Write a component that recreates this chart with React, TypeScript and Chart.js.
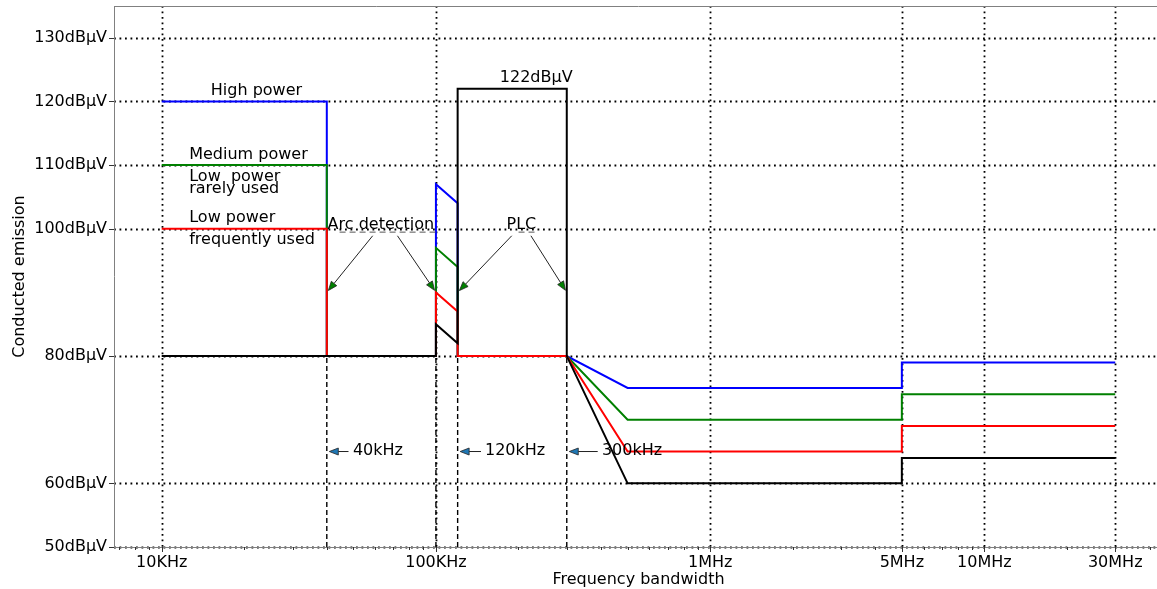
import { useEffect, useRef } from 'react';
import { Chart, registerables } from 'chart.js';

Chart.register(...registerables);

const FONT = '"DejaVu Sans", "Noto Sans", sans-serif';

// ---- data ----
const colorFreq = [10e3, 40e3, 40e3, 100e3, 100e3, 120e3, 120e3, 300e3, 500e3, 5e6, 5e6, 30e6];
const highPower = [120, 120, 80, 80, 107, 104, 80, 80, 75, 75, 79, 79];
const mediumPower = [110, 110, 80, 80, 97, 94, 80, 80, 70, 70, 74, 74];
const lowPower = [100, 100, 80, 80, 90, 87, 80, 80, 65, 65, 69, 69];
const plcFreq = [10e3, 100e3, 100e3, 120e3, 120e3, 300e3, 300e3, 500e3, 5e6, 5e6, 30e6];
const plcLevel = [80, 80, 85, 82, 122, 122, 80, 60, 60, 64, 64];

const markerFreqs = [40e3, 100e3, 120e3, 300e3];
const markerBottom = 50;
const markerTop = 80;

const xTickValues = [10e3, 100e3, 1e6, 5e6, 10e6, 30e6];
const xTickLabels = ['10KHz', '100KHz', '1MHz', '5MHz', '10MHz', '30MHz'];
const yTickValues = [50, 60, 80, 100, 110, 120, 130];
const yUnit = 'dBμV';

const xMin = 6700;
const xMax = 44.8e6;
const yMin = 50;
const yMax = 135;

// annotations (data coordinates)
const textNotes = [
  { text: 'High power', x: 15.1e3, y: 121.7, align: 'left' },
  { text: 'Medium power', x: 12.6e3, y: 111.65, align: 'left' },
  { text: 'Low  power', x: 12.6e3, y: 108.2, align: 'left' },
  { text: 'rarely used', x: 12.6e3, y: 106.3, align: 'left' },
  { text: 'Low power', x: 12.6e3, y: 101.75, align: 'left' },
  { text: 'frequently used', x: 12.6e3, y: 98.3, align: 'left' },
  { text: '122dBμV', x: 171e3, y: 123.75, align: 'left' },
  { text: 'Arc detection', x: 63e3, y: 100.65, align: 'center', underline: true },
  { text: 'PLC', x: 205e3, y: 100.65, align: 'center', underline: true },
  { text: '40kHz', x: 49.8e3, y: 65.1, align: 'left' },
  { text: '120kHz', x: 151e3, y: 65.1, align: 'left' },
  { text: '300kHz', x: 403e3, y: 65.1, align: 'left' },
];

const arrowNotes = [
  { fromX: 58.8e3, fromY: 98.9, toX: 40e3, toY: 90, fill: '#008000' },
  { fromX: 72.4e3, fromY: 98.9, toX: 100e3, toY: 90, fill: '#008000' },
  { fromX: 189e3, fromY: 98.9, toX: 120e3, toY: 90, fill: '#008000' },
  { fromX: 222e3, fromY: 98.9, toX: 300e3, toY: 90, fill: '#008000' },
  { fromX: 48e3, fromY: 65, toX: 40e3, toY: 65, fill: '#1f77b4' },
  { fromX: 146e3, fromY: 65, toX: 120e3, toY: 65, fill: '#1f77b4' },
  { fromX: 389e3, fromY: 65, toX: 300e3, toY: 65, fill: '#1f77b4' },
];

const toPoints = (xs: number[], ys: number[]) => xs.map((x, i) => ({ x, y: ys[i] }));

const markerPoints = () => {
  const pts: any[] = [];
  markerFreqs.forEach((f) => {
    pts.push({ x: f, y: markerBottom });
    pts.push({ x: f, y: markerTop });
    pts.push({ x: f, y: null });
  });
  return pts;
};

function minorTicks(): number[] {
  const out: number[] = [];
  for (let e = 3; e <= 7; e++) {
    for (let m = 1; m <= 9; m++) {
      const v = m * Math.pow(10, e);
      if (v >= xMin && v <= xMax && !xTickValues.includes(v)) out.push(v);
    }
  }
  return out;
}

const decorPlugin = {
  id: 'decor',
  beforeDatasetsDraw(chart: any) {
    const { ctx, chartArea } = chart;
    const xs = chart.scales.x;
    const ys = chart.scales.y;
    const { left, right, top, bottom } = chartArea;
    ctx.save();
    // grid
    ctx.strokeStyle = '#000';
    ctx.lineWidth = 1.8;
    ctx.setLineDash([1.8, 3.7]);
    yTickValues.forEach((v) => {
      const py = Math.round(ys.getPixelForValue(v)) + 0.5;
      ctx.beginPath();
      ctx.moveTo(left, py);
      ctx.lineTo(right, py);
      ctx.stroke();
    });
    xTickValues.forEach((v) => {
      const px = Math.round(xs.getPixelForValue(v)) + 0.5;
      ctx.beginPath();
      ctx.moveTo(px, top);
      ctx.lineTo(px, bottom);
      ctx.stroke();
    });
    ctx.setLineDash([]);
    // spines
    ctx.strokeStyle = '#808080';
    ctx.lineWidth = 1;
    ctx.beginPath();
    ctx.moveTo(left + 0.5, top);
    ctx.lineTo(left + 0.5, bottom);
    ctx.moveTo(left, top + 0.5);
    ctx.lineTo(right, top + 0.5);
    ctx.moveTo(left, bottom + 0.5);
    ctx.lineTo(right, bottom + 0.5);
    ctx.stroke();
    // ticks
    ctx.strokeStyle = '#333';
    ctx.beginPath();
    yTickValues.forEach((v) => {
      const py = Math.round(ys.getPixelForValue(v)) + 0.5;
      ctx.moveTo(left, py);
      ctx.lineTo(left - 5, py);
    });
    xTickValues.forEach((v) => {
      const px = Math.round(xs.getPixelForValue(v)) + 0.5;
      ctx.moveTo(px, bottom);
      ctx.lineTo(px, bottom + 5);
    });
    minorTicks().forEach((v) => {
      const px = Math.round(xs.getPixelForValue(v)) + 0.5;
      ctx.moveTo(px, bottom);
      ctx.lineTo(px, bottom + 3);
    });
    ctx.stroke();
    ctx.restore();
  },
  afterDatasetsDraw(chart: any) {
    const { ctx, chartArea } = chart;
    const xs = chart.scales.x;
    const ys = chart.scales.y;
    ctx.save();
    ctx.font = `16px ${FONT}`;
    ctx.fillStyle = '#000';
    ctx.textBaseline = 'middle';
    textNotes.forEach((n: any) => {
      const px = xs.getPixelForValue(n.x);
      const py = ys.getPixelForValue(n.y);
      ctx.textAlign = n.align;
      ctx.fillText(n.text, px, py);
      if (n.underline) {
        const w = ctx.measureText(n.text).width;
        const x0 = n.align === 'center' ? px - w / 2 : px;
        ctx.save();
        ctx.strokeStyle = '#555';
        ctx.lineWidth = 1;
        ctx.setLineDash([6, 4]);
        ctx.beginPath();
        ctx.moveTo(x0 + 12, py + 7.5);
        ctx.lineTo(x0 + w + 2, py + 7.5);
        ctx.stroke();
        ctx.restore();
      }
    });
    // arrows
    arrowNotes.forEach((a) => {
      const x1 = xs.getPixelForValue(a.fromX);
      const y1 = ys.getPixelForValue(a.fromY);
      let x2 = xs.getPixelForValue(a.toX);
      let y2 = ys.getPixelForValue(a.toY);
      const dx = x2 - x1;
      const dy = y2 - y1;
      const len = Math.hypot(dx, dy);
      const ux = dx / len;
      const uy = dy / len;
      x2 -= ux * 2.5;
      y2 -= uy * 2.5;
      const hl = 9;
      const hw = 3.5;
      const bx = x2 - ux * hl;
      const by = y2 - uy * hl;
      ctx.strokeStyle = '#222';
      ctx.lineWidth = 1;
      ctx.beginPath();
      ctx.moveTo(x1, y1);
      ctx.lineTo(bx, by);
      ctx.stroke();
      ctx.beginPath();
      ctx.moveTo(x2, y2);
      ctx.lineTo(bx - uy * hw, by + ux * hw);
      ctx.lineTo(bx + uy * hw, by - ux * hw);
      ctx.closePath();
      ctx.fillStyle = a.fill;
      ctx.fill();
      ctx.lineWidth = 0.8;
      ctx.stroke();
    });
    // axis titles
    ctx.fillStyle = '#000';
    ctx.textAlign = 'center';
    ctx.textBaseline = 'middle';
    ctx.fillText('Frequency bandwidth', (chartArea.left + chartArea.right) / 2, 580);
    ctx.save();
    ctx.translate(20, (chartArea.top + chartArea.bottom) / 2);
    ctx.rotate(-Math.PI / 2);
    ctx.fillText('Conducted emission', 0, 0);
    ctx.restore();
    ctx.restore();
  },
};

export default function App() {
  const ref = useRef<HTMLCanvasElement | null>(null);
  useEffect(() => {
    if (!ref.current) return;
    const line = (data: any, color: string, order: number, dash: number[] = [], width = 2) => ({
      data,
      borderColor: color,
      backgroundColor: color,
      borderWidth: width,
      borderDash: dash,
      pointRadius: 0,
      pointHoverRadius: 0,
      fill: false,
      tension: 0,
      spanGaps: false,
      order,
    });
    const chart = new Chart(ref.current, {
      type: 'line',
      data: {
        datasets: [
          line(toPoints(colorFreq, highPower), '#0000ff', 4),
          line(toPoints(colorFreq, mediumPower), '#008000', 3),
          line(toPoints(colorFreq, lowPower), '#ff0000', 2),
          line(toPoints(plcFreq, plcLevel), '#000000', 1),
          line(markerPoints(), '#000000', 5, [5, 3], 1.4),
        ] as any,
      },
      options: {
        animation: false,
        responsive: false,
        parsing: true,
        layout: { padding: { left: 0, right: 1, top: 6, bottom: 0 } },
        plugins: { legend: { display: false }, tooltip: { enabled: false } },
        events: [],
        scales: {
          x: {
            type: 'logarithmic',
            min: xMin,
            max: xMax,
            grid: { display: false, drawTicks: false },
            border: { display: false },
            afterBuildTicks: (s: any) => {
              s.ticks = xTickValues.map((v) => ({ value: v }));
            },
            afterFit: (s: any) => {
              s.height = 42;
              s.paddingLeft = 0;
              s.paddingRight = 0;
            },
            ticks: {
              autoSkip: false,
              maxRotation: 0,
              padding: 6,
              color: '#000',
              font: { family: FONT, size: 16 },
              callback: (_v: any, i: number) => xTickLabels[i],
            },
          },
          y: {
            type: 'linear',
            min: yMin,
            max: yMax,
            grid: { display: false, drawTicks: false },
            border: { display: false },
            afterBuildTicks: (s: any) => {
              s.ticks = yTickValues.map((v) => ({ value: v }));
            },
            afterFit: (s: any) => {
              s.width = 114;
              s.paddingTop = 0;
              s.paddingBottom = 0;
            },
            ticks: {
              autoSkip: false,
              padding: 7,
              color: '#000',
              font: { family: FONT, size: 16 },
              callback: (v: any) => `${v}${yUnit}`,
            },
          },
        },
      },
      plugins: [decorPlugin],
    } as any);
    return () => chart.destroy();
  }, []);
  return (
    <div style={{ position: 'fixed', left: 0, top: 0, width: 1157, height: 589, overflow: 'hidden', background: '#fff' }}>
      <canvas ref={ref} width={1164} height={589} style={{ width: 1164, height: 589, display: 'block' }} />
    </div>
  );
}
